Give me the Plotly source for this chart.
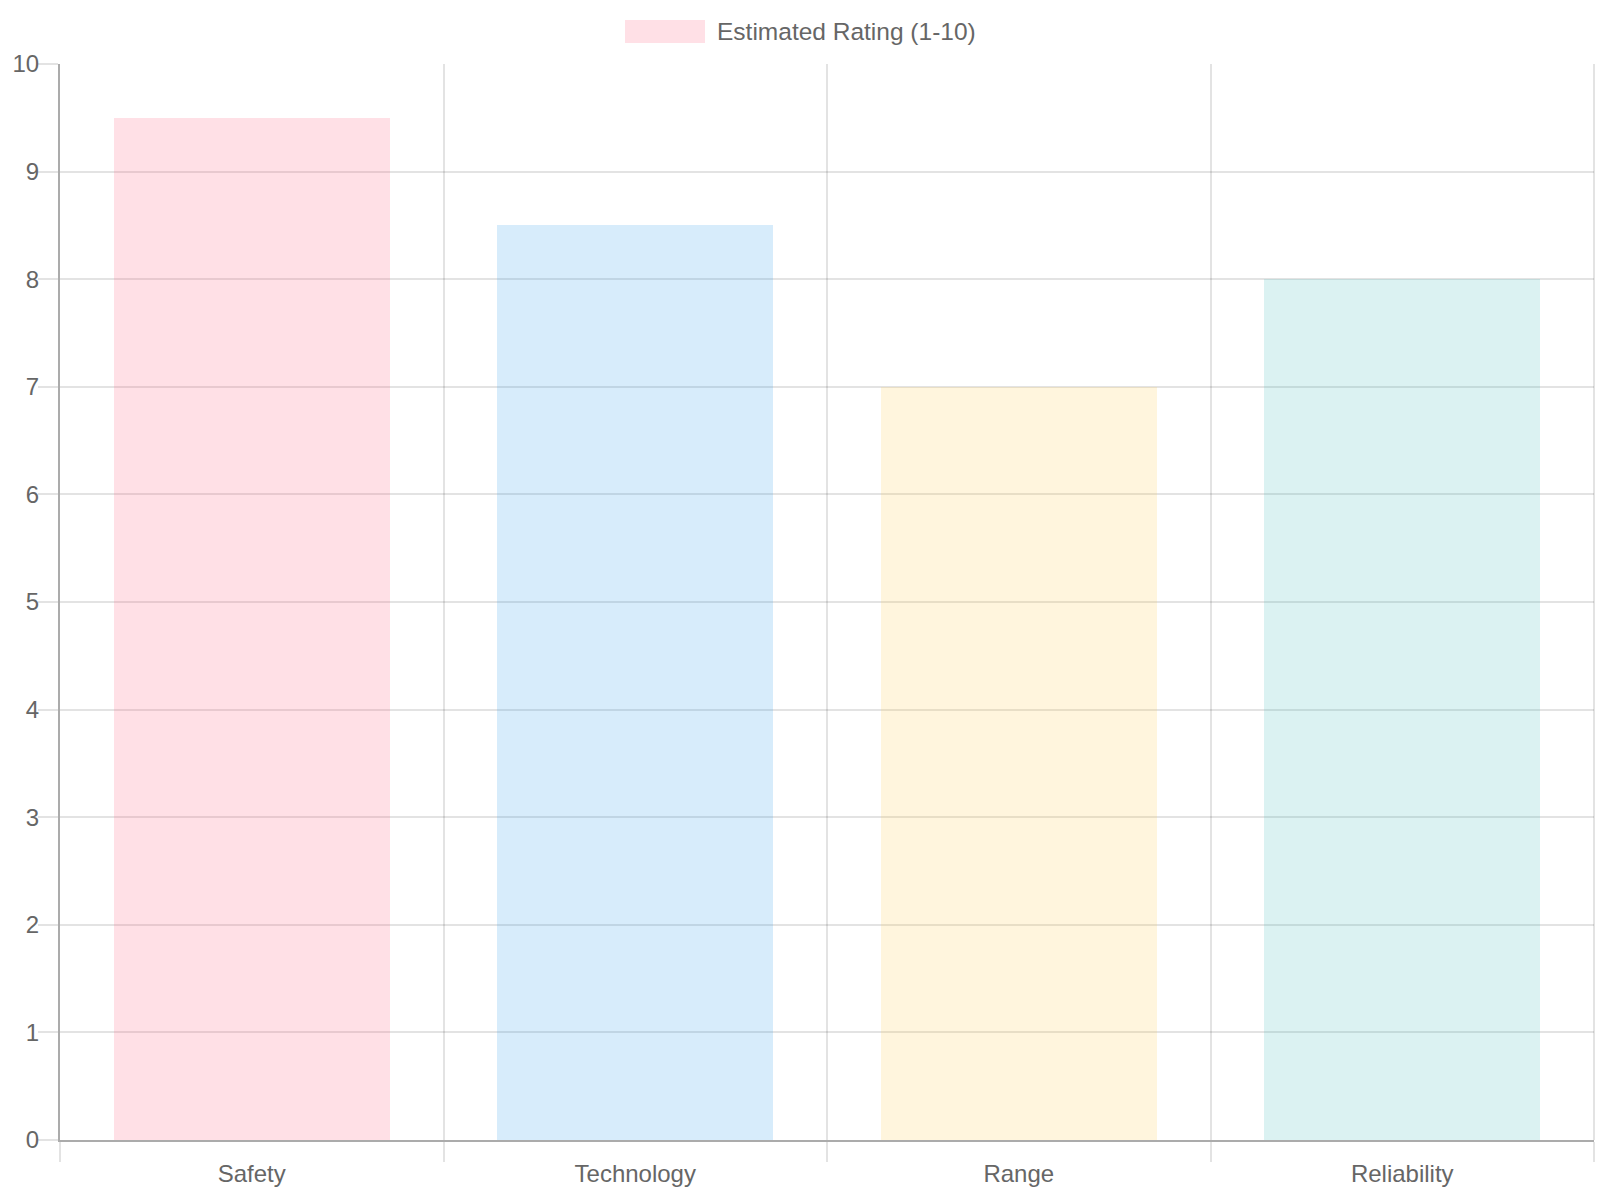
import plotly.graph_objects as go

categories = ["Safety", "Technology", "Range", "Reliability"]
ratings = [9.5, 8.5, 7, 8]
bar_colors = ["rgba(255,99,132,0.2)", "rgba(54,162,235,0.2)",
              "rgba(255,206,86,0.2)", "rgba(75,192,192,0.2)"]
series_name = "Estimated Rating (1-10)"
y_ticks = list(range(0, 11))

FONT = "Liberation Sans, Arial, Helvetica, sans-serif"
TXT = "#666666"
GRID = "rgba(0,0,0,0.11)"
AXIS = "rgba(0,0,0,0.33)"
FS = 24

x_pos = list(range(len(categories)))

fig = go.Figure()
fig.add_trace(go.Bar(
    x=x_pos, y=ratings, name=series_name,
    marker=dict(color=bar_colors, line=dict(width=0)),
    width=0.72, showlegend=False,
))

W, H = 1600, 1200
L, R, T, B = 60, 6, 64, 60
pw, ph = W - L - R, H - T - B

fig.update_layout(
    width=W, height=H,
    margin=dict(l=L, r=R, t=T, b=B),
    paper_bgcolor="white", plot_bgcolor="white",
    font=dict(family=FONT, size=FS, color=TXT),
    showlegend=False,
    bargap=0,
)

fig.update_xaxes(
    range=[-0.5, len(categories) - 0.5],
    tickvals=x_pos, ticktext=categories,
    ticks="", showgrid=False, zeroline=False,
    showline=True, linecolor=AXIS, linewidth=2,
    tickfont=dict(size=FS, color=TXT),
    ticklabelstandoff=11,
    minor=dict(tickvals=[i - 0.5 for i in range(len(categories) + 1)],
               showgrid=True, gridcolor=GRID, gridwidth=1.5,
               ticks="outside", ticklen=20, tickcolor=GRID, tickwidth=2),
    fixedrange=True,
)
fig.update_yaxes(
    range=[0, 10], tickvals=y_ticks,
    showgrid=True, gridcolor=GRID, gridwidth=1.5,
    ticks="outside", ticklen=20, tickcolor=GRID, tickwidth=1.5,
    zeroline=False, showline=True, linecolor=AXIS, linewidth=2,
    tickfont=dict(size=FS, color=TXT),
    ticklabelstandoff=-6,
)

# right border line (chart.js last grid line)
fig.add_shape(type="line", xref="paper", yref="paper", x0=1, x1=1, y0=0, y1=1,
              line=dict(color=GRID, width=2))

# legend (chart.js style box + label)
def px_x(px):
    return (px - L) / pw

def px_y(py):
    return (H - B - py) / ph

fig.add_shape(type="rect", xref="paper", yref="paper",
              x0=px_x(625), x1=px_x(705), y0=px_y(43), y1=px_y(20),
              fillcolor=bar_colors[0], line=dict(width=0))
fig.add_annotation(xref="paper", yref="paper", x=px_x(715), y=px_y(31.5),
                   xanchor="left", yanchor="middle", showarrow=False,
                   text=series_name, font=dict(size=24.5, color=TXT, family=FONT))

fig.write_html("out.html")
